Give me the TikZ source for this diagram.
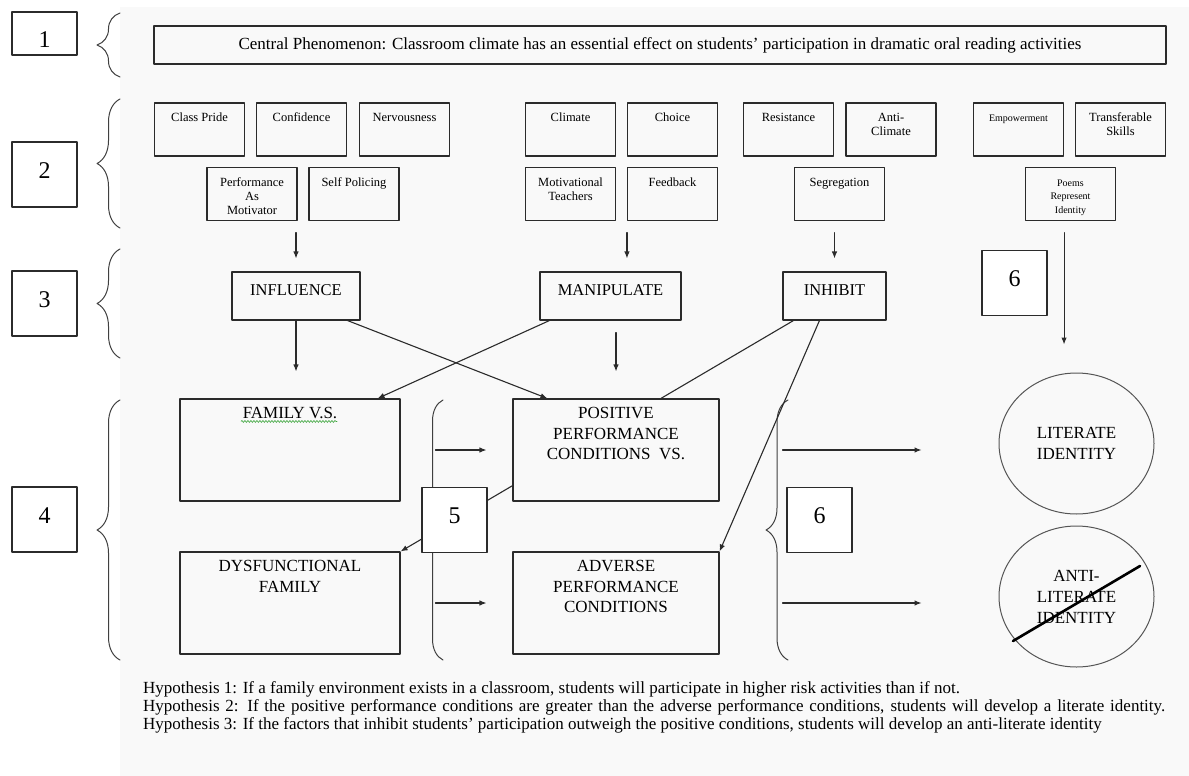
\documentclass[tikz,border=0pt]{standalone}
\usepackage{fontspec}
\setmainfont{Liberation Serif}
\usetikzlibrary{arrows.meta,shapes.geometric,decorations.pathreplacing,decorations.pathmorphing}
\definecolor{PageGray}{HTML}{F9F9F9}
\definecolor{LineGray}{HTML}{2B2B2B}
\definecolor{SpellGreen}{HTML}{3DA53D}
\pgfdeclarelayer{background}
\pgfsetlayers{background,main}
% text stacked from the top line down
\newcommand{\topcell}[1]{\begin{tabular}[t]{@{}c@{}}#1\end{tabular}}

\begin{document}
\begin{tikzpicture}[x=1pt,y=-1pt,line cap=round,line join=round,
  boxline/.style={draw=LineGray,line width=1.1pt},
  numbox/.style={boxline,fill=white,minimum width=65pt,minimum height=65pt,
    font=\fontsize{24}{24}\selectfont,text depth=8pt},
  factor/.style={boxline,fill=PageGray,minimum width=90pt,inner ysep=4pt,
    text height=14.5pt,text depth=30.5pt,font=\fontsize{12.5}{14}\selectfont},
  action/.style={boxline,fill=PageGray,inner ysep=4pt,
    text height=19pt,text depth=21pt,font=\fontsize{16.5}{20}\selectfont},
  condition/.style={boxline,fill=PageGray,minimum width=206pt,inner ysep=4pt,
    text height=15.5pt,text depth=78.5pt,font=\fontsize{17}{20.5}\selectfont},
  identity/.style={ellipse,draw=LineGray!80,line width=1pt,fill=PageGray,minimum width=155pt,
    minimum height=141pt,align=center,font=\fontsize{17}{21}\selectfont},
  bracket/.style={decorate,decoration={brace,amplitude=#1},draw=LineGray!90,line width=1pt},
  arr/.style={draw=LineGray,line width=1.1pt,-{Latex[length=7pt,width=5.5pt]}},
  hyp/.style={anchor=base west,inner sep=0pt,font=\fontsize{17}{18}\selectfont}]
  \useasboundingbox (0,0) rectangle (1189,776);
  \begin{pgfonlayer}{background}
    \fill[PageGray] (120,7) rectangle (1189,776);
  \end{pgfonlayer}

  % level numbers and braces
  \node[numbox,minimum height=43pt,text depth=0pt,text height=28pt] (levelone) at (44.5,33.5) {1};
  \node[numbox] (leveltwo) at (44.5,174.5) {2};
  \node[numbox] (levelthree) at (44.5,303.5) {3};
  \node[numbox] (levelfour) at (44.5,519.5) {4};
  \draw[bracket=23pt] (120,77) -- (120,13);
  \draw[bracket=23pt] (120,228) -- (120,99);
  \draw[bracket=23pt] (120,358) -- (120,249);
  \draw[bracket=23pt] (120,660) -- (120,400);
  \draw[bracket=21pt] (443,660) -- (443,400);
  \draw[bracket=22pt] (788,660) -- (788,400);

  \node[boxline,fill=PageGray,minimum width=1012pt,minimum height=38pt,
    font=\fontsize{17}{20}\selectfont] (phenomenon) at (660,45)
    {Central Phenomenon: Classroom climate has an essential effect on students’ participation in dramatic oral reading activities};

  % factors
  \node[factor] (classpride) at (199.5,129.5) {Class Pride};
  \node[factor] (confidence) at (301.5,129.5) {Confidence};
  \node[factor] (nervousness) at (404.5,129.5) {Nervousness};
  \node[factor] (perfmotiv) at (252,194) {\topcell{Performance\\As\\Motivator}};
  \node[factor] (selfpolicing) at (354,194) {Self Policing};
  \node[factor] (climate) at (570.5,129.5) {Climate};
  \node[factor] (choice) at (672.5,129.5) {Choice};
  \node[factor] (motivteachers) at (570.5,194) {\topcell{Motivational\\Teachers}};
  \node[factor] (feedback) at (672.5,194) {Feedback};
  \node[factor] (resistance) at (788.5,129.5) {Resistance};
  \node[factor] (anticlimate) at (891,129.5) {\topcell{Anti-\\Climate}};
  \node[factor] (segregation) at (839.5,194) {Segregation};
  \node[factor,font=\fontsize{10}{13.5}\selectfont] (empowerment) at (1018.5,129.5) {Empowerment};
  \node[factor] (transferable) at (1120.5,129.5) {\topcell{Transferable\\Skills}};
  \node[factor,font=\fontsize{10}{13.5}\selectfont] (poems) at (1070.5,194) {\topcell{Poems\\Represent\\Identity}};

  % actions
  \node[action,minimum width=128pt] (influence) at (296,296) {INFLUENCE};
  \node[action,minimum width=141pt] (manipulate) at (610.5,296) {MANIPULATE};
  \node[action,minimum width=103pt] (inhibit) at (834.5,296) {INHIBIT};
  \node[numbox] (levelsixtop) at (1014.5,283) {6};

  % conditions and identities
  \node[condition,minimum width=220pt] (family) at (290,450) {FAMILY V.S.};
  \node[condition,minimum width=220pt] (dysfunctional) at (290,603) {\topcell{DYSFUNCTIONAL\\FAMILY}};
  \node[condition] (adverse) at (616,603) {\topcell{ADVERSE\\PERFORMANCE\\CONDITIONS}};
  \begin{pgfonlayer}{background}
    \draw[arr] ([xshift=11pt]inhibit.south west) -- (dysfunctional.north east);
  \end{pgfonlayer}
  \node[condition] (positive) at (616,450) {\topcell{POSITIVE\\PERFORMANCE\\CONDITIONS\ \ VS.}};
  \node[numbox] (levelfive) at (454.5,520) {5};
  \node[numbox] (levelsix) at (819.5,520) {6};
  \node[identity] (literate) at (1076.5,443.5) {LITERATE\\IDENTITY};
  \node[identity] (antiliterate) at (1076.5,596.5) {ANTI-\\LITERATE\\IDENTITY};
  \draw[line width=2.6pt] ([shift={(-63.5pt,-44.5pt)}]antiliterate.center) -- ([shift={(63.5pt,30.5pt)}]antiliterate.center);
  \draw[SpellGreen,line width=0.6pt,decorate,decoration={snake,amplitude=1pt,segment length=3pt}]
    ([shift={(-49pt,-23pt)}]family.north) -- ([shift={(47pt,-23pt)}]family.north);

  % connectors
  \draw[arr] ([yshift=-11.5pt]perfmotiv.south -| influence.north) -- ([yshift=13pt]influence.north);
  \draw[arr] ([yshift=-11.5pt]feedback.south west) -- ([yshift=13pt]manipulate.north -| feedback.south west);
  \draw[arr] ([yshift=-11.5pt]segregation.south -| inhibit.north) -- ([yshift=13pt]inhibit.north);
  \draw[arr] ([yshift=-11.5pt]poems.south -| empowerment.east) -- ([yshift=28pt]literate.north -| empowerment.east);
  \draw[arr] (influence.south) -- ([yshift=27pt]family.north -| influence.south);
  \draw[arr] ([yshift=-12pt]manipulate.south -| positive.north) -- ([yshift=27pt]positive.north);
  \draw[arr] ([xshift=-13pt]influence.south east) -- ([xshift=35pt]positive.north west);
  \draw[arr] ([xshift=10pt]manipulate.south west) -- ([xshift=-23pt]family.north east);
  \draw[arr] ([xshift=37pt]inhibit.south west) -- (adverse.north east);
  \draw[arr] ([xshift=-77pt]positive.west) -- ([xshift=-26pt]positive.west);
  \draw[arr] ([xshift=-77pt]adverse.west) -- ([xshift=-26pt]adverse.west);
  \draw[arr] ([xshift=63pt]positive.east) -- ([xshift=-77pt]literate.west |- positive.east);
  \draw[arr] ([xshift=63pt]adverse.east) -- ([xshift=-77pt]antiliterate.west |- adverse.east);

  % hypotheses
  \node[hyp] (hypone) at (143,693) {Hypothesis 1: If a family environment exists in a classroom, students will participate in higher risk activities than if not.};
  \node[hyp] (hyptwo) at (143,711) {\makebox[1022pt][s]{Hypothesis 2: If the positive performance conditions are greater than the adverse performance conditions, students will develop a literate identity.}};
  \node[hyp] (hypthree) at (143,729) {Hypothesis 3: If the factors that inhibit students’ participation outweigh the positive conditions, students will develop an anti-literate identity};
\end{tikzpicture}
\end{document}
